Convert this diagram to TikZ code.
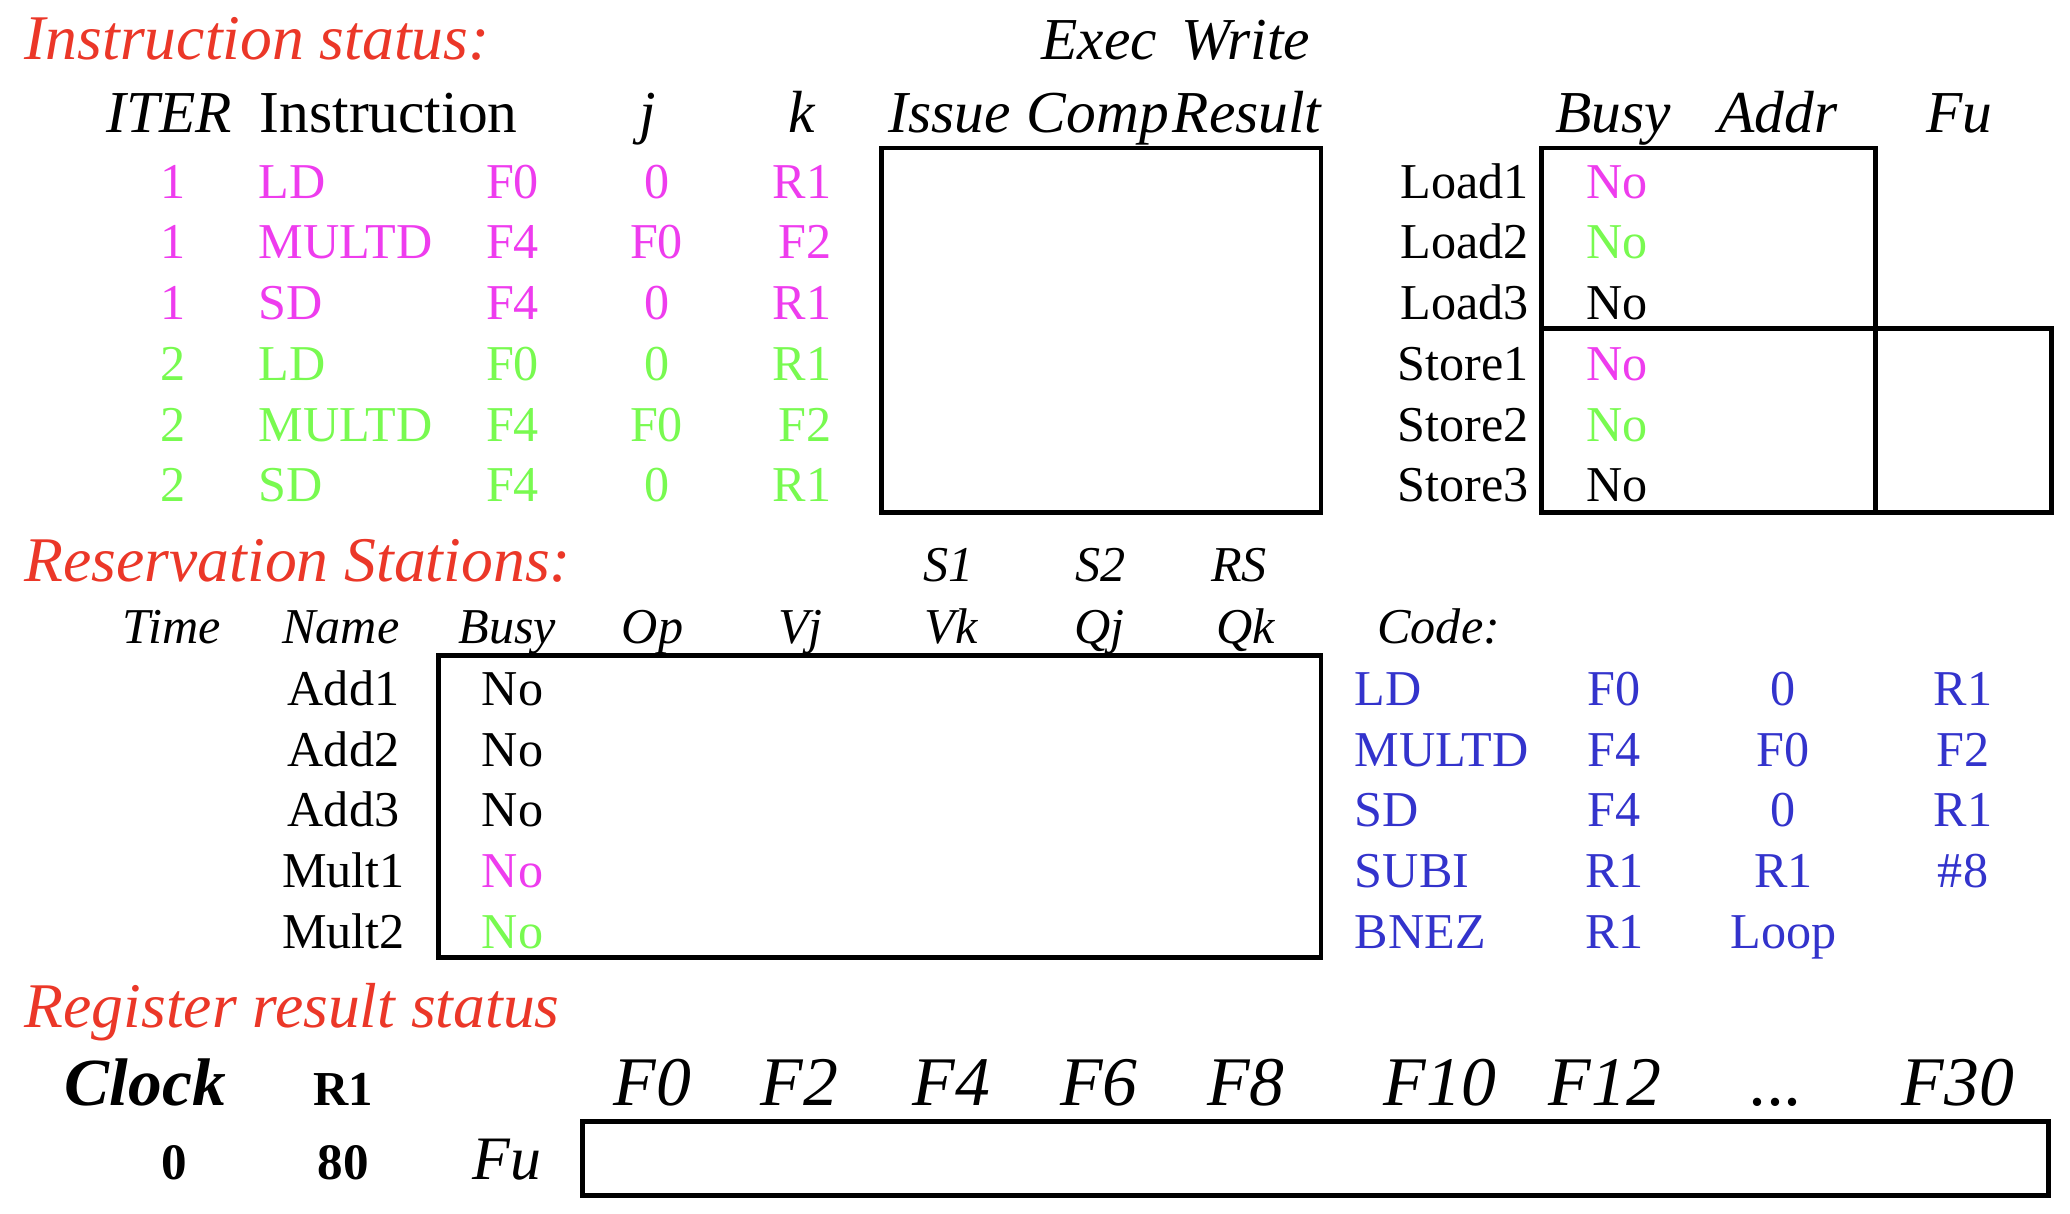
\documentclass[tikz,border=0pt]{standalone}
\usepackage{fontspec}
\setmainfont{Liberation Serif}
\usepackage{tikz}
\usetikzlibrary{positioning}
\definecolor{hdred}{RGB}{235,55,40}
\definecolor{iterone}{RGB}{238,60,238}
\definecolor{itertwo}{RGB}{120,250,80}
\definecolor{codeblue}{RGB}{51,51,204}
\tikzset{
  title/.style={font=\fontsize{13.7}{15}\selectfont\itshape,text=hdred,anchor=base west,inner sep=0pt},
  colhead/.style={font=\fontsize{12.8}{14}\selectfont\itshape,anchor=base,inner sep=0pt},
  rshead/.style={font=\fontsize{10.8}{12}\selectfont\itshape,anchor=base,inner sep=0pt},
  reghead/.style={font=\fontsize{15}{17}\selectfont\itshape,anchor=base,inner sep=0pt},
  entry/.style={font=\fontsize{10.8}{12}\selectfont,anchor=base,inner sep=0pt},
  tablebox/.style={draw,line width=1.05pt}
}
\begin{document}
\begin{tikzpicture}[x=0.01cm,y=-0.01cm]
  \useasboundingbox (0,0) rectangle (1567,919);
  % instruction status
  \node[title] (ititle) at (18,45) {Instruction status:};
  \node[colhead] (exec) at (832,45) {Exec};
  \node[colhead] (write) at (943,45) {Write};
  \foreach \t/\x [count=\i] in {ITER/128,j/490,k/607,Issue/719,Comp/831,Result/944,Busy/1221,Addr/1346,Fu/1483}
    { \node[colhead] (ih\i) at (\x,100) {\t}; }
  \node[colhead,font=\fontsize{12.8}{14}\selectfont,anchor=base west] (instr) at (196,100) {Instruction};
  \foreach \c/\it/\op/\d/\j/\k [count=\r] in {iterone/1/LD/F0/0/R1,iterone/1/MULTD/F4/F0/F2,iterone/1/SD/F4/0/R1,
      itertwo/2/LD/F0/0/R1,itertwo/2/MULTD/F4/F0/F2,itertwo/2/SD/F4/0/R1}{
    \node[entry,text=\c] (it\r) at (131,104+46*\r) {\it};
    \node[entry,text=\c,anchor=base west] (op\r) at (195,104+46*\r) {\op};
    \node[entry,text=\c] (d\r) at (388,104+46*\r) {\d};
    \node[entry,text=\c] (j\r) at (497,104+46*\r) {\j};
    \node[entry,text=\c,anchor=base east] (k\r) at (630,104+46*\r) {\k};
  }
  \draw[tablebox] (667,112) rectangle (1000,388);
  % load / store buffers
  \foreach \n/\c [count=\r] in {Load1/iterone,Load2/itertwo,Load3/black,Store1/iterone,Store2/itertwo,Store3/black}{
    \node[entry,anchor=base east] (buf\r) at (1158,104+46*\r) {\n};
    \node[entry,text=\c,anchor=base west] (bbusy\r) at (1200,104+46*\r) {No};
  }
  \draw[tablebox] (1167,112) rectangle (1420,388);
  \draw[tablebox] (1167,249) rectangle (1553,388);
  % reservation stations
  \node[title] (rtitle) at (18,440) {Reservation Stations:};
  \foreach \t/\x [count=\i] in {S1/718,S2/833,RS/938}
    { \node[rshead] (sh\i) at (\x,440) {\t}; }
  \foreach \t/\x [count=\i] in {Time/130,Name/258,Busy/384,Op/494,Vj/606,Vk/720,Qj/832,Qk/943}
    { \node[rshead] (rh\i) at (\x,487) {\t}; }
  \node[rshead,anchor=base west] (code) at (1042,487) {Code:};
  \foreach \n/\c [count=\r] in {Add1/black,Add2/black,Add3/black,Mult1/iterone,Mult2/itertwo}{
    \node[entry] (rs\r) at (260,488+46*\r) {\n};
    \node[entry,text=\c,anchor=base west] (rbusy\r) at (364,488+46*\r) {No};
  }
  \draw[tablebox] (332,496) rectangle (1000,725);
  \foreach \op/\a/\b/\c [count=\r] in {LD/F0/0/R1,MULTD/F4/F0/F2,SD/F4/0/R1,SUBI/R1/R1/\#8,BNEZ/R1/Loop/{}}{
    \node[entry,text=codeblue,anchor=base west] (cop\r) at (1025,488+46*\r) {\op};
    \node[entry,text=codeblue] (ca\r) at (1222,488+46*\r) {\a};
    \node[entry,text=codeblue] (cb\r) at (1350,488+46*\r) {\b};
    \node[entry,text=codeblue] (cc\r) at (1486,488+46*\r) {\c};
  }
  % register result status
  \node[title] (gtitle) at (18,778) {Register result status};
  \node[reghead,font=\fontsize{14.5}{17}\selectfont\bfseries\itshape] (clock) at (110,837) {Clock};
  \node[entry,font=\fontsize{10.5}{12}\selectfont\bfseries] (rone) at (260,837) {R1};
  \foreach \t/\x [count=\i] in {F0/494,F2/605,F4/720,F6/832,F8/943,F10/1090,F12/1215,F30/1482}
    { \node[reghead] (fh\i) at (\x,837) {\t}; }
  \node[reghead] (fdots) at (1345,837) {...};
  \node[entry,font=\fontsize{11}{12}\selectfont\bfseries] (clk) at (132,893) {0};
  \node[entry,font=\fontsize{11}{12}\selectfont\bfseries] (rval) at (260,893) {80};
  \node[reghead,font=\fontsize{13.3}{15}\selectfont\itshape] (fu) at (384,893) {Fu};
  \draw[tablebox] (441,849) rectangle (1551,905);
\end{tikzpicture}
\end{document}
